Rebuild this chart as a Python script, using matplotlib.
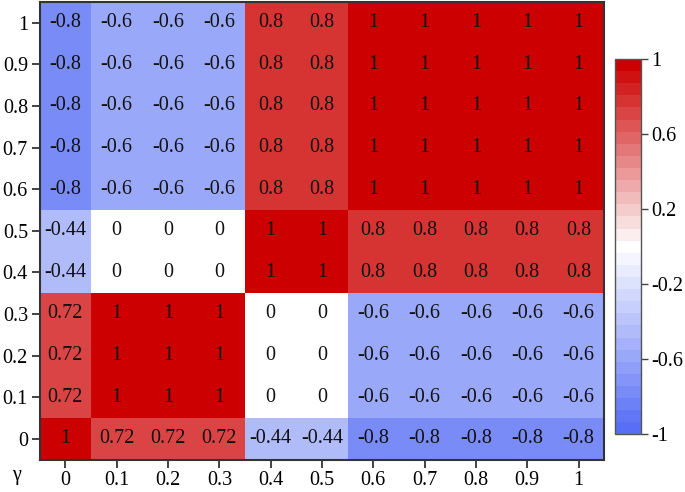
import matplotlib
matplotlib.use("Agg")
import matplotlib.pyplot as plt
import numpy as np
from matplotlib.colors import LinearSegmentedColormap, Normalize

plt.rcParams['font.family'] = ['Liberation Serif', 'DejaVu Serif']
plt.rcParams['font.size'] = 14.5

# tick values on both axes
x_vals = [0, 0.1, 0.2, 0.3, 0.4, 0.5, 0.6, 0.7, 0.8, 0.9, 1]
y_vals = [0, 0.1, 0.2, 0.3, 0.4, 0.5, 0.6, 0.7, 0.8, 0.9, 1]
x_labels = ["0", "0.1", "0.2", "0.3", "0.4", "0.5", "0.6", "0.7", "0.8", "0.9", "1"]
y_labels = ["0", "0.1", "0.2", "0.3", "0.4", "0.5", "0.6", "0.7", "0.8", "0.9", "1"]

# rows from y=0 (bottom) to y=1 (top)
row_y0 = [1, 0.72, 0.72, 0.72, -0.44, -0.44, -0.8, -0.8, -0.8, -0.8, -0.8]
row_low = [0.72, 1, 1, 1, 0, 0, -0.6, -0.6, -0.6, -0.6, -0.6]      # y = 0.1 .. 0.3
row_mid = [-0.44, 0, 0, 0, 1, 1, 0.8, 0.8, 0.8, 0.8, 0.8]          # y = 0.4, 0.5
row_high = [-0.8, -0.6, -0.6, -0.6, 0.8, 0.8, 1, 1, 1, 1, 1]        # y = 0.6 .. 1

values = np.array([row_y0] + [row_low] * 3 + [row_mid] * 2 + [row_high] * 5)

cmap = LinearSegmentedColormap.from_list(
    "bwr_custom", [(0.34, 0.43, 0.96), (1, 1, 1), (0.80, 0.0, 0.0)]).resampled(31)
norm = Normalize(-1, 1)

fig = plt.figure(figsize=(6.85, 4.92), dpi=100)
ax = fig.add_axes([0.058, 0.066, 0.824, 0.93])
cax = fig.add_axes([0.898, 0.117, 0.038, 0.763])

mesh = ax.pcolormesh(values, cmap=cmap, norm=norm)

for i in range(values.shape[0]):
    for j in range(values.shape[1]):
        v = values[i, j]
        txt = "%g" % v
        ax.text(j + 0.5, i + 0.5, txt, ha="center", va="center", fontsize=14.5, color="#111111")

ax.set_xticks(np.arange(len(x_vals)) + 0.5)
ax.set_xticklabels(x_labels)
ax.set_yticks(np.arange(len(y_vals)) + 0.5)
ax.set_yticklabels(y_labels)
ax.set_xlim(0, len(x_vals))
ax.set_ylim(0, len(y_vals))
ax.tick_params(direction="out", length=6, width=1.2, pad=2.5, colors="#222222", labelcolor="black")
for s in ax.spines.values():
    s.set_linewidth(1.5)
    s.set_color("#333333")

fig.text(0.024, 0.034, "γ", ha="center", va="center", fontsize=14.5)

cb = fig.colorbar(mesh, cax=cax)
cb.set_ticks([-1, -0.6, -0.2, 0.2, 0.6, 1])
cb.set_ticklabels(["-1", "-0.6", "-0.2", "0.2", "0.6", "1"])
cb.ax.tick_params(length=5, width=1, pad=2.5, colors="#444444", labelcolor="black")
cb.outline.set_linewidth(1)
cb.outline.set_edgecolor("#555555")

fig.savefig("out.png", dpi=100)
